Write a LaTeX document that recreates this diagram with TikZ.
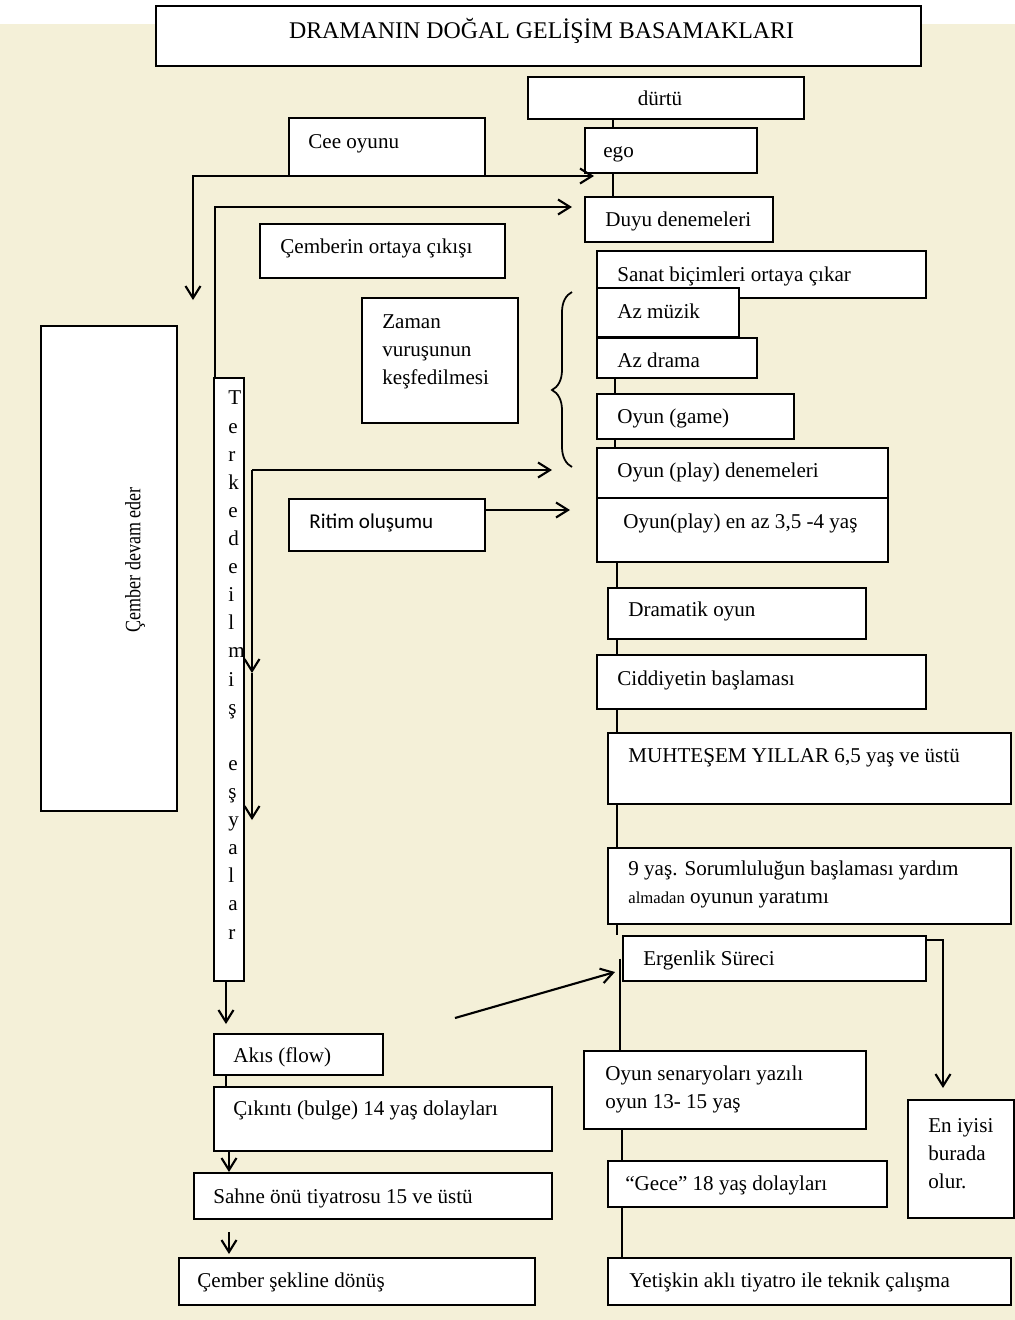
\documentclass[tikz,border=0pt]{standalone}
\usepackage{fontspec}
\setmainfont{Liberation Serif}
\newfontfamily\ritimfont{Carlito}
\usetikzlibrary{arrows.meta, calc, decorations.pathreplacing}
\newlength\px
\setlength\px{0.02cm}
\definecolor{paper}{RGB}{244,240,216}
\tikzstyle{stage} = [rectangle, draw=black, fill=white, line width=1.2pt, anchor=north west, inner sep=0pt]
\tikzstyle{lbl} = [anchor=base west, inner sep=0pt, align=left, font=\fontsize{12}{15.9}\selectfont]
\tikzstyle{link} = [line width=1.2pt]
\tikzstyle{arrow} = [line width=1.2pt, ->, >={Straight Barb[length=2.4mm, width=3mm]}]

\begin{document}
\begin{tikzpicture}[x=0.02cm, y=-0.02cm]
\useasboundingbox (0,0) rectangle (1015,1320);
\fill[paper] (0,0) rectangle (1015,1320);
\fill[white] (0,0) rectangle (1015,24);

% right column
\node (title) [stage, minimum width=765\px, minimum height=60\px] at (155,5) {};
\node (titlet) [lbl, anchor=base, font=\fontsize{13.6}{16}\selectfont] at ($(title.north)+(3,33)$) {DRAMANIN DOĞAL GELİŞİM BASAMAKLARI};
\node (durtu) [stage, minimum width=276\px, minimum height=42\px] at (527,76) {};
\node (durtut) [lbl, anchor=base] at ($(durtu.north west)+(133,29)$) {dürtü};
\node (ego) [stage, minimum width=172\px, minimum height=45\px] at (584,127) {};
\node (egot) [lbl] at ($(ego.north west)+(19,30)$) {ego};
\node (duyu) [stage, minimum width=188\px, minimum height=45\px] at (584,196) {};
\node (duyut) [lbl] at ($(duyu.north west)+(21,30)$) {Duyu denemeleri};
\node (sanat) [stage, minimum width=329\px, minimum height=47\px] at (596,250) {};
\node (sanatt) [lbl] at ($(sanat.north west)+(21,31)$) {Sanat biçimleri ortaya çıkar};
\node (muzik) [stage, minimum width=142\px, minimum height=49\px] at (596,287) {};
\node (muzikt) [lbl] at ($(muzik.north west)+(21,31)$) {Az müzik};
\node (drama) [stage, minimum width=160\px, minimum height=40\px] at (596,337) {};
\node (dramat) [lbl] at ($(drama.north west)+(21,30)$) {Az drama};
\node (game) [stage, minimum width=197\px, minimum height=45\px] at (596,393) {};
\node (gamet) [lbl] at ($(game.north west)+(21,30)$) {Oyun (game)};
\node (playden) [stage, minimum width=291\px, minimum height=50\px] at (596,447) {};
\node (playdent) [lbl] at ($(playden.north west)+(21,30)$) {Oyun (play) denemeleri};
\node (enaz) [stage, minimum width=291\px, minimum height=64\px] at (596,497) {};
\node (enazt) [lbl] at ($(enaz.north west)+(27,31)$) {Oyun(play) en az 3,5 -4 yaş};
\node (dramatik) [stage, minimum width=258\px, minimum height=51\px] at (607,587) {};
\node (dramatikt) [lbl] at ($(dramatik.north west)+(21,29)$) {Dramatik oyun};
\node (ciddi) [stage, minimum width=329\px, minimum height=54\px] at (596,654) {};
\node (ciddit) [lbl] at ($(ciddi.north west)+(21,31)$) {Ciddiyetin başlaması};
\node (muhtesem) [stage, minimum width=403\px, minimum height=71\px] at (607,732) {};
\node (muhtesemt) [lbl] at ($(muhtesem.north west)+(21,30)$) {MUHTEŞEM YILLAR 6,5 yaş ve üstü};
\node (dokuz) [stage, minimum width=403\px, minimum height=76\px] at (607,847) {};
% multi-line labels sit on their last line
\node (dokuzt) [lbl] at ($(dokuz.north west)+(21,56)$) {9 yaş. Sorumluluğun başlaması yardım\\{\fontsize{9.5}{15.9}\selectfont almadan} oyunun yaratımı};
\node (ergen) [stage, minimum width=303\px, minimum height=45\px] at (622,935) {};
\node (ergent) [lbl] at ($(ergen.north west)+(21,30)$) {Ergenlik Süreci};
\node (senar) [stage, minimum width=282\px, minimum height=78\px] at (583,1050) {};
\node (senart) [lbl] at ($(senar.north west)+(22,58)$) {Oyun senaryoları yazılı\\oyun 13- 15 yaş};
\node (gece) [stage, minimum width=279\px, minimum height=46\px] at (607,1160) {};
\node (gecet) [lbl] at ($(gece.north west)+(18,30)$) {“Gece” 18 yaş dolayları};
\node (yetis) [stage, minimum width=403\px, minimum height=47\px] at (607,1257) {};
\node (yetist) [lbl] at ($(yetis.north west)+(22,30)$) {Yetişkin aklı tiyatro ile teknik çalışma};
\node (eniyi) [stage, minimum width=106\px, minimum height=118\px] at (907,1099) {};
\node (eniyit) [lbl] at ($(eniyi.north west)+(21,89)$) {En iyisi\\burada\\olur.};

% left column
\node (cee) [stage, minimum width=196\px, minimum height=58\px] at (288,117) {};
\node (ceet) [lbl] at ($(cee.north west)+(20,31)$) {Cee oyunu};
\node (cember) [stage, minimum width=245\px, minimum height=54\px] at (259,223) {};
\node (cembert) [lbl] at ($(cember.north west)+(21,30)$) {Çemberin ortaya çıkışı};
\node (zaman) [stage, minimum width=156\px, minimum height=125\px] at (361,297) {};
\node (zamant) [lbl] at ($(zaman.north west)+(21,87)$) {Zaman\\vuruşunun\\keşfedilmesi};
\node (ritim) [stage, minimum width=196\px, minimum height=52\px] at (288,498) {};
\node (ritimt) [lbl, font=\ritimfont\fontsize{12}{15.9}\selectfont] at ($(ritim.north west)+(21,30)$) {Ritim oluşumu};
\node (terk) [stage, minimum width=30\px, minimum height=603\px] at (213,377) {};
\node (terkt) [lbl, font=\fontsize{12}{16}\selectfont] at ($(terk.north west)+(15,562)$) {T\\e\\r\\k\\e\\d\\e\\i\\l\\m\\i\\ş\\\strut\\e\\ş\\y\\a\\l\\a\\r};
\node (cdevam) [stage, minimum width=136\px, minimum height=485\px] at (40,325) {};
\node (cdevamt) [rotate=90, inner sep=0pt, font=\fontsize{12.5}{14}\selectfont] at (135,560) {\scalebox{0.82}[1]{Çember devam eder}};
\node (akis) [stage, minimum width=169\px, minimum height=41\px] at (213,1033) {};
\node (akist) [lbl] at ($(akis.north west)+(20,29)$) {Akıs (flow)};
\node (cikinti) [stage, minimum width=338\px, minimum height=64\px] at (213,1086) {};
\node (cikintit) [lbl] at ($(cikinti.north west)+(20,29)$) {Çıkıntı (bulge) 14 yaş dolayları};
\node (sahne) [stage, minimum width=358\px, minimum height=46\px] at (193,1172) {};
\node (sahnet) [lbl] at ($(sahne.north west)+(20,31)$) {Sahne önü tiyatrosu 15 ve üstü};
\node (donus) [stage, minimum width=356\px, minimum height=47\px] at (178,1257) {};
\node (donust) [lbl] at ($(donus.north west)+(19,30)$) {Çember şekline dönüş};

% helper points
\coordinate (sp1) at (613,0);
\coordinate (sp2) at (615,0);
\coordinate (sp3) at (617,0);
\coordinate (sp4) at (620,0);
\coordinate (sp5) at (622,0);
\coordinate (lc) at (226,0);
\coordinate (lc2) at (229,0);
\coordinate (ceeend) at (193,300);
\coordinate (egoarr) at (594,176);
\coordinate (duyuarr) at (572,207);
\coordinate (tkj) at (252,470);
\coordinate (tkm) at (252,673);
\coordinate (tke) at (252,820);
\coordinate (playarr) at (552,470);
\coordinate (ritarr) at (570,510);
\coordinate (flowstart) at (455,1018);
\coordinate (ergarr) at (615,972);
\coordinate (ergr) at (925,940);
\coordinate (eniyarr) at (943,1088);

% spine
\draw [link] (durtu.south -| sp1) -- (ego.north -| sp1);
\draw [link] (ego.south -| sp1) -- (duyu.north -| sp1);
\draw [link] (drama.south -| sp2) -- (game.north -| sp2);
\draw [link] (game.south -| sp2) -- (playden.north -| sp2);
\draw [link] (enaz.south -| sp3) -- (dramatik.north -| sp3);
\draw [link] (dramatik.south -| sp3) -- (ciddi.north -| sp3);
\draw [link] (ciddi.south -| sp3) -- (muhtesem.north -| sp3);
\draw [link] (muhtesem.south -| sp3) -- (dokuz.north -| sp3);
\draw [link] (dokuz.south -| sp3) -- (ergen.north -| sp3);
\draw [link] (ergen.west -| sp4) -- (senar.north -| sp4);
\draw [link] (senar.south -| sp5) -- (gece.north -| sp5);
\draw [link] (gece.south -| sp5) -- (yetis.north -| sp5);

% side arrows
\draw [arrow, <->] (ceeend) |- (egoarr);
\draw [arrow] ($(terk.north west)+(2,0)$) |- (duyuarr);
\draw [arrow] (tkj) -- (playarr);
\draw [arrow] (tkj) -- (tkm);
\draw [arrow] (tkm) -- (tke);
\draw [arrow] (ritim.east |- ritarr) -- (ritarr);
\draw [line width=1pt, decorate, decoration={brace, amplitude=4mm, aspect=0.44}] (572,467) -- (572,292);
\draw [arrow] (terk.south -| lc) -- ($(akis.north -| lc)+(0,-9)$);
\draw [link] (akis.south -| lc) -- (cikinti.north -| lc);
\draw [arrow] (cikinti.south -| lc2) -- (sahne.north -| lc2);
\draw [arrow] ($(sahne.south -| lc2)+(0,12)$) -- ($(donus.north -| lc2)+(0,-3)$);
\draw [arrow] (flowstart) -- (ergarr);
\draw [arrow] (ergr) -| (eniyarr);
\end{tikzpicture}
\end{document}
